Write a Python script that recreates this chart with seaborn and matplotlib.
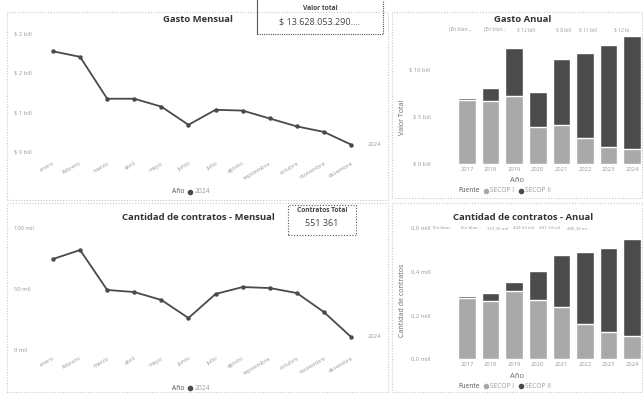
import numpy as np
import pandas as pd
import seaborn as sns
import matplotlib.pyplot as plt
from matplotlib.patches import Rectangle
from matplotlib.lines import Line2D

# ---- data ----
meses = ["enero", "febrero", "marzo", "abril", "mayo", "junio", "julio",
         "agosto", "septiembre", "octubre", "noviembre", "diciembre"]
gasto_mensual = [1.77, 1.70, 1.17, 1.17, 1.07, 0.84, 1.03, 1.02, 0.92, 0.82, 0.75, 0.59]   # bill
contratos_mensual = [74.6, 82.0, 49.2, 47.5, 41.0, 26.2, 45.9, 51.6, 50.8, 46.7, 31.1, 10.7]  # mil

anos = ["2017", "2018", "2019", "2020", "2021", "2022", "2023", "2024"]
gasto_secop1 = [6.8, 6.7, 7.2, 3.9, 4.1, 2.8, 1.8, 1.6]
gasto_secop2 = [0.2, 1.4, 5.1, 3.7, 7.1, 9.0, 10.8, 12.0]
contratos_secop1 = [0.279, 0.265, 0.311, 0.270, 0.238, 0.160, 0.124, 0.105]
contratos_secop2 = [0.009, 0.037, 0.041, 0.133, 0.238, 0.330, 0.384, 0.444]

gasto_ticks = [2, 1.5, 1, 0.5]
gasto_ticklabels = ["$ 2 bill", "$ 2 bill", "$ 1 bill", "$ 0 bill"]
contr_ticks = [0, 50, 100]
contr_ticklabels = ["0 mil", "50 mil", "100 mil"]
anual_ticks = [0, 5, 10]
anual_ticklabels = ["$ 0 bill", "$ 5 bill", "$ 10 bill"]
canual_ticks = [0, 0.2, 0.4, 0.6]
canual_ticklabels = ["0,0 mill", "0,2 mill", "0,4 mill", "0,6 mill"]

gasto_top_labels = ["(En blan...", "(En blan...", "$ 12 bill", "$ 8 bill", "$ 11 bill", "$ 12 bi"]
contr_top_labels = ["(En blan...", "(En blan...", "357,36 mil", "404 54 mil", "481 14 mil", "486,34 mi"]

W, H = 643, 393
LINE = "#4a4a4a"
LIGHT = "#a9a9a9"
DARK = "#4b4b4b"
TXT = "#9a9a9a"

sns.set_theme(style="white")
plt.rcParams["font.family"] = ["Open Sans", "DejaVu Sans"]

fig = plt.figure(figsize=(W / 100, H / 100), dpi=100)
fig.patch.set_facecolor("white")
renderer = fig.canvas.get_renderer()


def box(l, t, r, b):
    return [l / W, 1 - b / H, (r - l) / W, (b - t) / H]


def ftext(x, y, s, **kw):
    return fig.text(x / W, 1 - y / H, s, **kw)


def dotted_rect(l, t, r, b, color="#c8c8c8", lw=0.8):
    fig.add_artist(Rectangle((l / W, 1 - b / H), (r - l) / W, (b - t) / H,
                             transform=fig.transFigure, fill=False,
                             ls=(0, (1, 1.5)), ec=color, lw=lw))


def clean(ax):
    sns.despine(ax=ax, left=True, bottom=True)
    ax.tick_params(length=0)
    ax.set_xlabel("")
    ax.set_ylabel("")
    ax.grid(False)
    ax.set_facecolor("none")


def legend_row(x, y, title, items):
    t = ftext(x, y, title, fontsize=4.8, color="#555555", va="center")
    cx = x + t.get_window_extent(renderer).width + 6
    for lab, col in items:
        fig.add_artist(Line2D([cx / W], [1 - y / H], marker="o", ms=3,
                              color=col, transform=fig.transFigure))
        t = ftext(cx + 4, y, lab, fontsize=4.8, color=TXT, va="center")
        cx += 4 + t.get_window_extent(renderer).width + 7


# panel frames
dotted_rect(7, 12, 388, 200)
dotted_rect(7, 203, 388, 392)
dotted_rect(392, 12, 642, 198)
dotted_rect(392, 203, 642, 392)


def monthly(ax_box, values, ylim, ticks, ticklabels, title, title_y, last_y):
    ax = fig.add_axes(box(*ax_box))
    df = pd.DataFrame({"mes": meses, "valor": values})
    sns.lineplot(data=df, x="mes", y="valor", sort=False, color=LINE, lw=1.3,
                 marker="o", markersize=3.2, markeredgewidth=0, ax=ax)
    clean(ax)
    ax.set_xlim(-0.48, 12.07)
    ax.set_ylim(*ylim)
    ax.set_yticks(ticks)
    ax.set_yticklabels(ticklabels, fontsize=4.2, color=TXT, ha="left")
    ax.tick_params(axis="y", pad=19)
    ax.set_xticks(range(len(meses)))
    ax.set_xticklabels(meses, rotation=30, ha="right", rotation_mode="anchor",
                       fontsize=4.2, color=TXT)
    ax.tick_params(axis="x", pad=2)
    ax.text(11.6, values[-1], "2024", fontsize=4.2, color=TXT, va="center")
    ftext(198, title_y, title, fontsize=6.8, fontweight="bold",
          color="#333333", ha="center", va="center")
    legend_row(172, last_y, "Año", [("2024", LINE)])
    return ax


monthly((40, 30, 380, 158), gasto_mensual, (0.42, 2.04), gasto_ticks,
        gasto_ticklabels, "Gasto Mensual", 20, 192)
monthly((40, 225, 380, 353), contratos_mensual, (-2.5, 102.5), contr_ticks,
        contr_ticklabels, "Cantidad de contratos - Mensual", 218, 388)


def anual(ax_box, s1, s2, ylim, ticks, ticklabels, title, title_y, ylabel,
          ylab_y, xlab_y, leg_y, top_labels, top_xs, top_y, top_fs):
    ax = fig.add_axes(box(*ax_box))
    total = [a + b for a, b in zip(s1, s2)]
    sns.barplot(x=anos, y=total, color=DARK, saturation=1, width=0.75, ax=ax)
    sns.barplot(x=anos, y=s1, color=LIGHT, saturation=1, width=0.75, ax=ax)
    clean(ax)
    ax.set_xlim(-0.72, 7.46)
    ax.set_ylim(*ylim)
    ax.set_yticks(ticks)
    ax.set_yticklabels(ticklabels, fontsize=4.2, color=TXT)
    ax.tick_params(axis="y", pad=14)
    ax.tick_params(axis="x", labelsize=4.2, labelcolor=TXT, pad=2)
    ftext(523, title_y, title, fontsize=6.8, fontweight="bold",
          color="#333333", ha="center", va="center")
    ftext(402, ylab_y, ylabel, fontsize=5, color="#666666", rotation=90,
          ha="center", va="center")
    ftext(517, xlab_y, "Año", fontsize=5.5, color="#666666", ha="center",
          va="center")
    legend_row(458, leg_y, "Fuente", [("SECOP I", LIGHT), ("SECOP II", DARK)])
    for s, x in zip(top_labels, top_xs):
        ftext(x, top_y, s, fontsize=top_fs, color=TXT, ha="center", va="center")
    return ax


anual((450, 35, 643, 164), gasto_secop1, gasto_secop2, (0, 13.7), anual_ticks,
      anual_ticklabels, "Gasto Anual", 20, "Valor Total", 117, 180, 191,
      gasto_top_labels, [460, 495, 526, 563, 588, 622], 30, 3.6)
anual((450, 228, 643, 359), contratos_secop1, contratos_secop2, (0, 0.6),
      canual_ticks, canual_ticklabels, "Cantidad de contratos - Anual", 218,
      "Cantidad de contratos", 300, 376, 386,
      contr_top_labels, [443, 471, 498, 524, 550, 577], 228, 3.2)

# KPI cards
fig.add_artist(Line2D([257 / W, 257 / W], [1, 1 - 34 / H], color="#555555",
                      lw=0.8, transform=fig.transFigure))
fig.add_artist(Line2D([257 / W, 383 / W, 383 / W], [1 - 34 / H, 1 - 34 / H, 1],
                      color="#555555", lw=0.8, ls=(0, (1, 1)),
                      transform=fig.transFigure))
ftext(320, 8, "Valor total", fontsize=4.8, fontweight="bold", color="#444444",
      ha="center", va="center")
ftext(320, 22, "$ 13.628.053.290....", fontsize=6.5, color="#444444",
      ha="center", va="center")

dotted_rect(288, 205, 356, 235, color="#555555")
ftext(322, 211, "Contratos Total", fontsize=4.8, fontweight="bold",
      color="#444444", ha="center", va="center")
ftext(322, 224, "551 361", fontsize=6.5, color="#444444", ha="center",
      va="center")

fig.savefig("out.png", dpi=100, facecolor="white")
